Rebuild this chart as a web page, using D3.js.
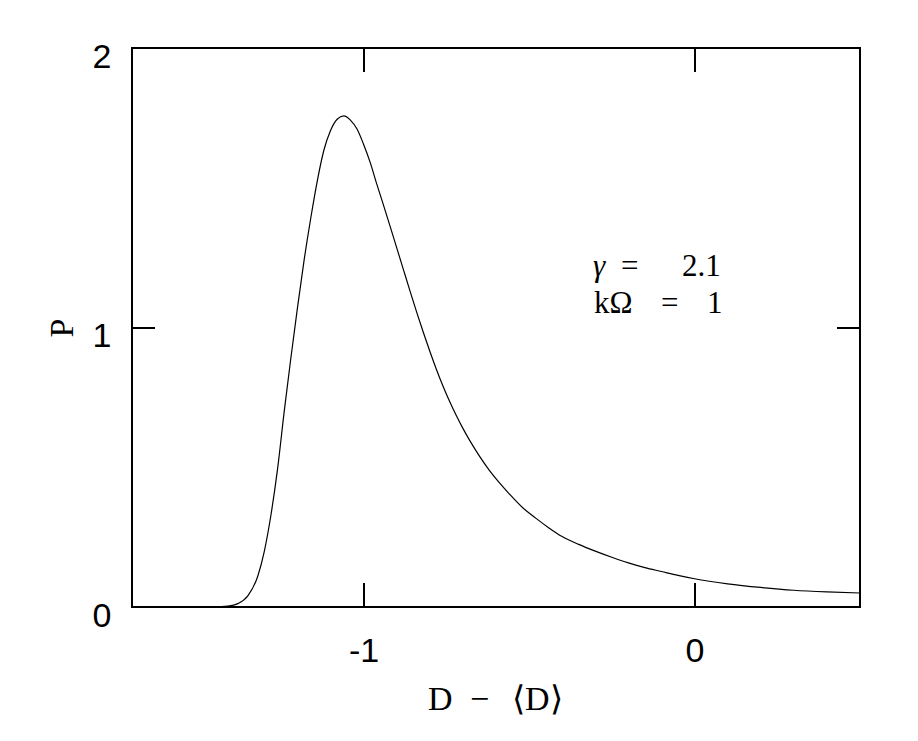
<!DOCTYPE html>
<html>
<head>
<meta charset="utf-8">
<script src="https://cdn.jsdelivr.net/npm/d3@7"></script>
<style>
  body { margin: 0; background: #fff; }
  svg { display: block; }
</style>
</head>
<body>
<svg id="chart" width="918" height="741"></svg>
<script>
// curve: D - <D> vs P
var dValues = [-1.70, -1.45, -1.41, -1.38, -1.35, -1.32, -1.30, -1.28, -1.26, -1.24,
  -1.22, -1.20, -1.18, -1.16, -1.14, -1.12, -1.10, -1.08, -1.06, -1.04,
  -1.02, -1.00, -0.98, -0.96, -0.94, -0.92, -0.90, -0.88, -0.86, -0.84,
  -0.82, -0.80, -0.78, -0.76, -0.74, -0.72, -0.70, -0.68, -0.65, -0.62,
  -0.59, -0.56, -0.52, -0.48, -0.44, -0.40, -0.35, -0.30, -0.25, -0.20,
  -0.15, -0.10, -0.05, 0.00, 0.10, 0.20, 0.30, 0.40, 0.50];
var pValues = [0, 0, 0.003, 0.012, 0.040, 0.110, 0.200, 0.330, 0.495, 0.700,
  0.890, 1.070, 1.240, 1.390, 1.525, 1.635, 1.705, 1.745, 1.757, 1.742,
  1.710, 1.655, 1.590, 1.512, 1.438, 1.362, 1.285, 1.208, 1.131, 1.056,
  0.984, 0.915, 0.850, 0.790, 0.735, 0.685, 0.639, 0.597, 0.540, 0.489,
  0.445, 0.405, 0.356, 0.318, 0.283, 0.252, 0.224, 0.200, 0.178, 0.158,
  0.141, 0.127, 0.113, 0.101, 0.083, 0.070, 0.060, 0.054, 0.050];

var xTicks = [-1, 0];
var yTicks = [0, 1, 2];
var xDomain = [-1.7, 0.5];
var yDomain = [0, 2];

var data = dValues.map((d, i) => ({ d: d, p: pValues[i] }));

var svg = d3.select("#chart"),
  margin = { top: 48, right: 58, bottom: 134, left: 132 },
  width = +svg.attr("width") - margin.left - margin.right,
  height = +svg.attr("height") - margin.top - margin.bottom,
  g = svg.append("g").attr("transform", "translate(" + margin.left + "," + margin.top + ")");

var x = d3.scaleLinear().domain(xDomain).range([0, width]);
var y = d3.scaleLinear().domain(yDomain).range([height, 0]);

var fmt = d => (d < 0 ? "-" + Math.abs(d) : "" + d);

// frame
g.append("rect")
  .attr("width", width)
  .attr("height", height)
  .attr("fill", "none")
  .attr("stroke", "#000")
  .attr("stroke-width", 1.3)
  .attr("shape-rendering", "crispEdges");

// bottom ticks + labels
var xb = g.append("g")
  .attr("transform", `translate(0,${height})`)
  .call(d3.axisBottom(x).tickValues(xTicks).tickSize(-24).tickFormat(fmt));
xb.select(".domain").remove();
xb.selectAll("text").attr("y", 55).attr("dy", 0);

// top ticks
var xt = g.append("g")
  .call(d3.axisTop(x).tickValues(xTicks).tickSize(-24).tickFormat(""));
xt.select(".domain").remove();

// left ticks + labels
var yl = g.append("g")
  .call(d3.axisLeft(y).tickValues(yTicks).tickSize(-23).tickFormat(fmt));
yl.select(".domain").remove();
yl.selectAll("text").attr("x", -30).attr("dy", 19).attr("text-anchor", "middle");

// right ticks
var yr = g.append("g")
  .attr("transform", `translate(${width},0)`)
  .call(d3.axisRight(y).tickValues(yTicks).tickSize(-23).tickFormat(""));
yr.select(".domain").remove();

svg.selectAll(".tick line")
  .attr("stroke-width", 1.3)
  .attr("shape-rendering", "crispEdges");
svg.selectAll(".tick text")
  .attr("font-family", "'Liberation Sans', Arial, sans-serif")
  .attr("font-size", 34)
  .attr("fill", "#000");

// curve
var line = d3.line()
  .x(d => x(d.d))
  .y(d => y(d.p))
  .curve(d3.curveMonotoneX);

g.append("path")
  .attr("fill", "none")
  .attr("stroke", "#000")
  .attr("stroke-width", 1.2)
  .attr("stroke-linejoin", "round")
  .attr("d", line(data));

// axis titles
var serif = "'Liberation Serif', 'Times New Roman', serif";

svg.append("text")
  .attr("transform", "translate(73,328) rotate(-90)")
  .attr("text-anchor", "middle")
  .attr("font-family", serif)
  .attr("font-size", 34)
  .text("P");

var xl = svg.append("text")
  .attr("y", 710)
  .attr("font-family", serif)
  .attr("font-size", 34);
xl.append("tspan").attr("x", 428).text("D");
xl.append("tspan").attr("x", 470).text("\u2212");
xl.append("tspan").attr("x", 512).text("\u27E8D\u27E9");

// annotation
var a1 = svg.append("text")
  .attr("y", 276)
  .attr("font-family", serif)
  .attr("font-size", 31);
a1.append("tspan").attr("x", 593).attr("font-style", "italic").text("\u03B3");
a1.append("tspan").attr("x", 621).text("=");
a1.append("tspan").attr("x", 682).text("2.1");

var a2 = svg.append("text")
  .attr("y", 313)
  .attr("font-family", serif)
  .attr("font-size", 31);
a2.append("tspan").attr("x", 594).text("k\u03A9");
a2.append("tspan").attr("x", 661).text("=");
a2.append("tspan").attr("x", 707).text("1");
</script>
</body>
</html>
